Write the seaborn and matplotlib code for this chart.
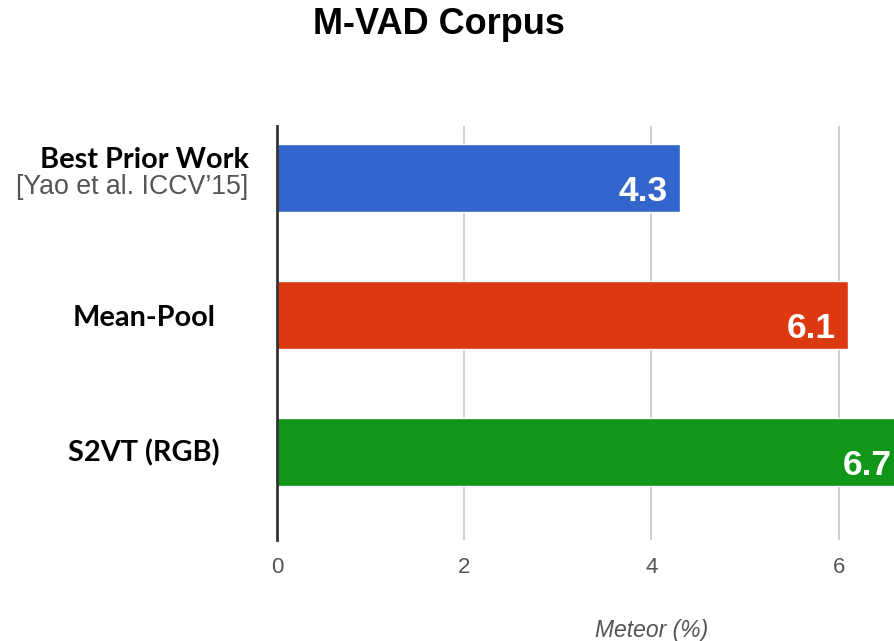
import matplotlib
matplotlib.use("Agg")
import matplotlib.pyplot as plt
import matplotlib.transforms as mtransforms
import seaborn as sns
import pandas as pd

# Data
categories = ["Best Prior Work", "Mean-Pool", "S2VT (RGB)"]
citation = "[Yao et al. ICCV\u201915]"
meteor = [4.3, 6.1, 6.7]
colors = ["#3366cc", "#dc3912", "#109618"]
x_ticks = [0, 2, 4, 6]
grid_ticks = [0, 2, 4, 6, 8]
x_max = 8

sns.set_theme(style="white")
plt.rcParams["font.family"] = ["Liberation Sans", "DejaVu Sans"]

df = pd.DataFrame({"method": categories, "meteor": meteor})

fig = plt.figure(figsize=(8.94, 6.41), dpi=100)
# chart area runs on past the right edge of the canvas
ax = fig.add_axes([0.3098, 0.1576, 0.8378, 0.6459])

sns.barplot(data=df, x="meteor", y="method", hue="method", palette=colors,
            orient="h", width=0.5, saturation=1, legend=False, ax=ax)

ax.set_xlim(0, x_max)
ax.set_ylim(2.642, -0.380)
ax.set_xticks(x_ticks)
ax.set_xticklabels([str(t) for t in x_ticks], fontsize=16, color="#555555")
ax.tick_params(axis="x", length=0, pad=12)
ax.set_yticks([])
ax.set_ylabel("")
ax.set_xlabel("Meteor (%)", fontsize=16.5, style="italic", color="#555555",
              labelpad=30)

# vertical gridlines (the one at 8 lies off the canvas)
for g in grid_ticks[1:]:
    ax.axvline(g, color="#cccccc", linewidth=1.3, zorder=0)
for side in ["top", "right", "bottom"]:
    ax.spines[side].set_visible(False)
ax.spines["left"].set_color("#333333")
ax.spines["left"].set_linewidth(2)
ax.spines["left"].set_zorder(5)

# value labels inside the bar ends
for i, v in enumerate(meteor):
    off = mtransforms.offset_copy(ax.transData, fig=fig, x=-12, y=-23, units="dots")
    ax.text(v, i, f"{v:.1f}", transform=off, ha="right", va="baseline",
            fontsize=25.5, fontweight="bold", color="white", zorder=6)

# category labels to the left of the axis
label_dy = [-10, 11, 9]
for i, name in enumerate(categories):
    off = mtransforms.offset_copy(ax.transData, fig=fig, x=0, y=-label_dy[i], units="dots")
    ax.text(-1.42, i, name, transform=off, ha="center", va="baseline",
            fontsize=20.8, fontweight="bold", color="black",
            family=["Lato", "DejaVu Sans"], clip_on=False)
off = mtransforms.offset_copy(ax.transData, fig=fig, x=0, y=-16, units="dots")
ax.text(-1.55, 0, citation, transform=off, ha="center", va="baseline",
        fontsize=19.3, color="#555555", clip_on=False)

fig.text(0.491, 1 - 25 / 641, "M-VAD Corpus", ha="center", va="center",
         fontsize=26, fontweight="bold", color="black")

fig.savefig("out.png", dpi=100)
